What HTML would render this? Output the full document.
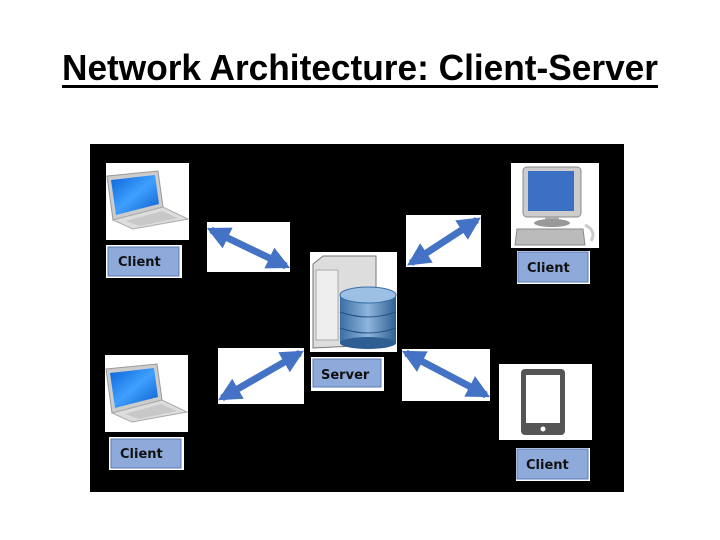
<!DOCTYPE html>
<html><head><meta charset="utf-8"><style>
html,body{margin:0;padding:0;background:#fff;width:720px;height:540px;overflow:hidden}
svg{display:block}
.lbl{font-family:"DejaVu Sans","Liberation Sans",sans-serif;font-weight:bold;font-size:13px;fill:#111}
</style></head><body>
<svg width="720" height="540" viewBox="0 0 720 540" xmlns="http://www.w3.org/2000/svg">
<defs>
<marker id="ah" viewBox="0 0 10 10" refX="8" refY="5" markerWidth="3.3" markerHeight="3.6" orient="auto-start-reverse" markerUnits="strokeWidth">
<path d="M0,0 L10,5 L0,10 z" fill="#4472C4"/></marker>
<linearGradient id="scr" x1="0" y1="0" x2="1" y2="1"><stop offset="0" stop-color="#0a64d8"/><stop offset="0.5" stop-color="#3fa0ff"/><stop offset="1" stop-color="#0a5cc8"/></linearGradient>
<linearGradient id="db" x1="0" y1="0" x2="1" y2="0"><stop offset="0" stop-color="#3a6ea5"/><stop offset="0.5" stop-color="#8fb6dc"/><stop offset="1" stop-color="#2f5f92"/></linearGradient>
<g id="laptop">
<polygon points="1,13 52,8 57,44 7,57" fill="#ccc" stroke="#999"/>
<polygon points="5,17 49,12 53,41 10,52" fill="url(#scr)"/>
<polygon points="7,57 57,44 82,56 27,66" fill="#ddd" stroke="#aaa"/>
<polygon points="20,58 56,48 72,55 34,63" fill="#c8c8c8"/>
</g>
</defs>
<text x="360" y="80" text-anchor="middle" font-family="Liberation Sans, sans-serif" font-weight="bold" font-size="36" textLength="596" lengthAdjust="spacingAndGlyphs">Network Architecture: Client-Server</text>
<rect x="62" y="85" width="596" height="3" fill="#000"/>
<rect x="90" y="144" width="534" height="348" fill="#000"/>

<rect x="106" y="163" width="83" height="77" fill="#fff"/>
<use href="#laptop" transform="translate(106,163)"/>
<rect x="106" y="245" width="76" height="33" fill="#fff"/><rect x="108" y="247" width="71" height="29" fill="#8eaadb" stroke="#5a7bb5"/>
<text class="lbl" x="118" y="266">Client</text>

<rect x="105" y="355" width="83" height="77" fill="#fff"/>
<use href="#laptop" transform="translate(105,356)"/>
<rect x="109" y="437" width="75" height="33" fill="#fff"/><rect x="111" y="439" width="70" height="29" fill="#8eaadb" stroke="#5a7bb5"/>
<text class="lbl" x="120" y="458">Client</text>

<rect x="511" y="163" width="88" height="85" fill="#fff"/>
<g transform="translate(511,163)">
<rect x="12" y="4" width="58" height="50" rx="4" fill="#ccc" stroke="#888"/><rect x="17" y="8" width="46" height="40" fill="#3b6fc4"/>
<rect x="34" y="54" width="14" height="6" fill="#aaa"/><ellipse cx="41" cy="60" rx="18" ry="4" fill="#999"/>
<polygon points="6,66 72,66 74,82 4,82" fill="#bbb" stroke="#888"/><path d="M74,62 q12,6 6,16" stroke="#ccc" stroke-width="3" fill="none"/></g>
<rect x="517" y="251" width="73" height="33" fill="#fff"/><rect x="518" y="252" width="70" height="30" fill="#8eaadb" stroke="#5a7bb5"/>
<text class="lbl" x="527" y="272">Client</text>

<rect x="499" y="364" width="93" height="76" fill="#fff"/>
<rect x="521" y="369" width="44" height="66" rx="4" fill="#555"/><rect x="526" y="375" width="34" height="48" fill="#fff"/><circle cx="543" cy="429" r="2.5" fill="#fff"/>
<rect x="516" y="448" width="74" height="33" fill="#fff"/><rect x="517" y="449" width="71" height="30" fill="#8eaadb" stroke="#5a7bb5"/>
<text class="lbl" x="526" y="469">Client</text>

<rect x="310" y="252" width="87" height="100" fill="#fff"/>
<polygon points="313,264 323,256 376,256 376,345 313,348" fill="#ddd" stroke="#777"/>
<rect x="316" y="270" width="22" height="70" fill="#eee" stroke="#aaa"/>
<rect x="340" y="295" width="56" height="48" fill="url(#db)"/>
<ellipse cx="368" cy="295" rx="28" ry="8" fill="#9cc0e4" stroke="#3a6ea5"/>
<path d="M340,312 q28,10 56,0 M340,328 q28,10 56,0" stroke="#224f80" fill="none"/>
<ellipse cx="368" cy="343" rx="28" ry="6" fill="#2f5f92"/>
<rect x="311" y="357" width="73" height="34" fill="#fff"/><rect x="313" y="359" width="68" height="28" fill="#8eaadb" stroke="#5a7bb5"/>
<text class="lbl" x="321" y="379">Server</text>

<rect x="207" y="222" width="83" height="50" fill="#fff"/>
<line x1="211" y1="230" x2="286" y2="266" stroke="#4472C4" stroke-width="7" marker-start="url(#ah)" marker-end="url(#ah)"/>
<rect x="406" y="215" width="75" height="52" fill="#fff"/>
<line x1="411" y1="263" x2="477" y2="220" stroke="#4472C4" stroke-width="7" marker-start="url(#ah)" marker-end="url(#ah)"/>
<rect x="218" y="348" width="86" height="56" fill="#fff"/>
<line x1="222" y1="398" x2="300" y2="353" stroke="#4472C4" stroke-width="7" marker-start="url(#ah)" marker-end="url(#ah)"/>
<rect x="402" y="349" width="88" height="52" fill="#fff"/>
<line x1="406" y1="353" x2="486" y2="395" stroke="#4472C4" stroke-width="7" marker-start="url(#ah)" marker-end="url(#ah)"/>
</svg>
</body></html>
